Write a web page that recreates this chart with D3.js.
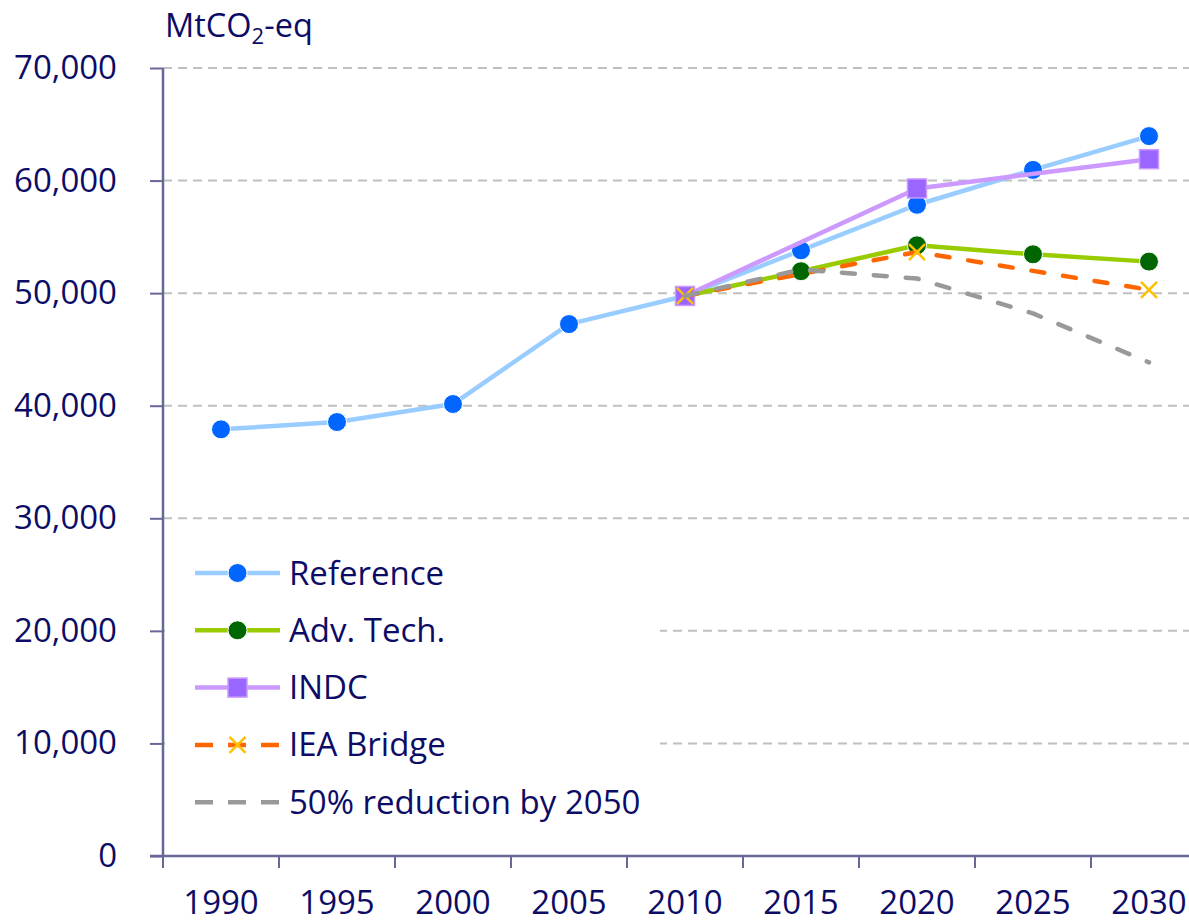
<!DOCTYPE html>
<html>
<head>
<meta charset="utf-8">
<script src="https://cdn.jsdelivr.net/npm/d3@7"></script>
<style>
  html, body { margin: 0; padding: 0; background: #fff; }
  svg { display: block; }
  text { font-family: "Open Sans", sans-serif; fill: #0c0c66; }
</style>
</head>
<body>
<div id="viz"></div>
<script>
// data
const years = ['1990', '1995', '2000', '2005', '2010', '2015', '2020', '2025', '2030'];
const reference = [37900, 38550, 40150, 47250, 49750, 53800, 57850, 60950, 63950];
const advTech   = [null, null, null, null, 49750, 51950, 54250, 53450, 52800];
const indc      = [null, null, null, null, 49750, null, 59300, null, 61900];
const ieaBridge = [null, null, null, null, 49750, null, 53650, null, 50300];
const halfBy2050 = [null, null, null, null, 49750, 52100, 51300, 48200, 43850];
const yTicks = [0, 10000, 20000, 30000, 40000, 50000, 60000, 70000];
const unitLabel = 'MtCO';

const width = 1189, height = 923;
const x0 = 163, bandW = 116, yTop = 68, yBottom = 856;
const fontSize = 33;

const svg = d3.select('#viz').append('svg')
  .attr('width', width)
  .attr('height', height);

const x = d3.scaleBand()
  .domain(years)
  .range([x0, x0 + bandW * years.length])
  .padding(0);

const y = d3.scaleLinear()
  .domain([0, 70000])
  .range([yBottom, yTop]);

const cx = d => x(d.year) + x.bandwidth() / 2;

// gridlines
svg.append('g')
  .selectAll('line')
  .data(yTicks.filter(t => t > 0))
  .enter()
  .append('line')
  .attr('x1', x0)
  .attr('x2', x.range()[1])
  .attr('y1', d => y(d))
  .attr('y2', d => y(d))
  .attr('stroke', '#c0c0c0')
  .attr('stroke-width', 2)
  .attr('stroke-dasharray', '9,6');

// legend background hides the grid under it
svg.append('rect')
  .attr('x', x0 + 2)
  .attr('y', 536)
  .attr('width', 495)
  .attr('height', 300)
  .attr('fill', '#fff');

const axisColor = '#686898';

// y axis
const yAxis = svg.append('g')
  .attr('transform', `translate(${x0},0)`)
  .call(d3.axisLeft(y).tickValues(yTicks).tickFormat(d3.format(',')).tickSize(13).tickPadding(33));
yAxis.select('.domain').remove();
yAxis.selectAll('.tick line').attr('stroke', axisColor).attr('stroke-width', 2);
yAxis.selectAll('text').attr('font-size', fontSize).style('fill', '#0c0c66');
svg.append('line')
  .attr('x1', x0).attr('x2', x0)
  .attr('y1', y(70000)).attr('y2', y(0))
  .attr('stroke', axisColor).attr('stroke-width', 2.5);

// x axis: labels centred in bands, tick marks on band edges
const xAxis = svg.append('g')
  .attr('transform', `translate(0,${yBottom})`)
  .call(d3.axisBottom(x).tickSize(0).tickPadding(35));
xAxis.select('.domain').remove();
xAxis.selectAll('text').attr('font-size', fontSize).style('fill', '#0c0c66');

svg.append('g')
  .selectAll('line')
  .data(years)
  .enter()
  .append('line')
  .attr('x1', d => x(d)).attr('x2', d => x(d))
  .attr('y1', yBottom).attr('y2', yBottom + 12)
  .attr('stroke', axisColor).attr('stroke-width', 2);

svg.append('line')
  .attr('x1', x0 - 13).attr('x2', x.range()[1])
  .attr('y1', yBottom).attr('y2', yBottom)
  .attr('stroke', axisColor).attr('stroke-width', 2.5);

// unit label
const unit = svg.append('text')
  .attr('x', 165)
  .attr('y', 37)
  .attr('font-size', 32.5);
unit.append('tspan').text(unitLabel);
unit.append('tspan').text('2').attr('font-size', 22).attr('dy', 7);
unit.append('tspan').text('-eq').attr('dy', -7);

// series config
const series = [
  { name: 'Reference', values: reference, line: '#99ccff', marker: 'circle', mColor: '#0066ff', dash: null },
  { name: 'Adv. Tech.', values: advTech, line: '#99cc00', marker: 'circle', mColor: '#006600', dash: null },
  { name: 'INDC', values: indc, line: '#cc99ff', marker: 'square', mColor: '#9966ff', dash: null },
  { name: 'IEA Bridge', values: ieaBridge, line: '#ff6600', marker: 'x', mColor: '#ffc000', dash: '13,19' },
  { name: '50% reduction by 2050', values: halfBy2050, line: '#999999', marker: null, mColor: null, dash: '13,19' }
];

function drawMarker(g, s, px, py) {
  if (s.marker === 'circle') {
    g.append('circle')
      .attr('cx', px).attr('cy', py).attr('r', 9.5)
      .attr('fill', s.mColor)
      .attr('stroke', '#fff').attr('stroke-width', 1);
  } else if (s.marker === 'square') {
    g.append('rect')
      .attr('x', px - 9.5).attr('y', py - 9.5)
      .attr('width', 19).attr('height', 19)
      .attr('fill', s.mColor)
      .attr('stroke', '#cc99ff').attr('stroke-width', 1.5);
  } else if (s.marker === 'x') {
    const r = 8;
    g.append('path')
      .attr('d', `M${px - r},${py - r}L${px + r},${py + r}M${px - r},${py + r}L${px + r},${py - r}`)
      .attr('stroke', s.mColor).attr('stroke-width', 2.5).attr('fill', 'none');
  }
}

const line = d3.line().x(cx).y(d => y(d.value));

series.forEach(s => {
  const pts = years.map((yr, i) => ({ year: yr, value: s.values[i] }))
    .filter(d => d.value !== null);
  const g = svg.append('g');
  g.append('path')
    .datum(pts)
    .attr('fill', 'none')
    .attr('stroke', s.line)
    .attr('stroke-width', 4.5)
    .attr('stroke-linecap', s.dash ? 'round' : 'butt')
    .attr('stroke-linejoin', 'round')
    .attr('stroke-dasharray', s.dash)
    .attr('d', line);
  pts.forEach(d => drawMarker(g, s, cx(d), y(d.value)));
});

// legend
const legend = svg.append('g');
series.forEach((s, i) => {
  const ly = 573 + i * 57.3;
  const row = legend.append('g');
  row.append('line')
    .attr('x1', 195).attr('x2', 280)
    .attr('y1', ly).attr('y2', ly)
    .attr('stroke', s.line).attr('stroke-width', 4.5)
    .attr('stroke-dasharray', s.dash ? '18,15' : null);
  drawMarker(row, s, 237.5, ly);
  row.append('text')
    .attr('x', 289)
    .attr('y', ly)
    .attr('dy', '0.35em')
    .attr('font-size', fontSize)
    .text(s.name);
});
</script>
</body>
</html>
